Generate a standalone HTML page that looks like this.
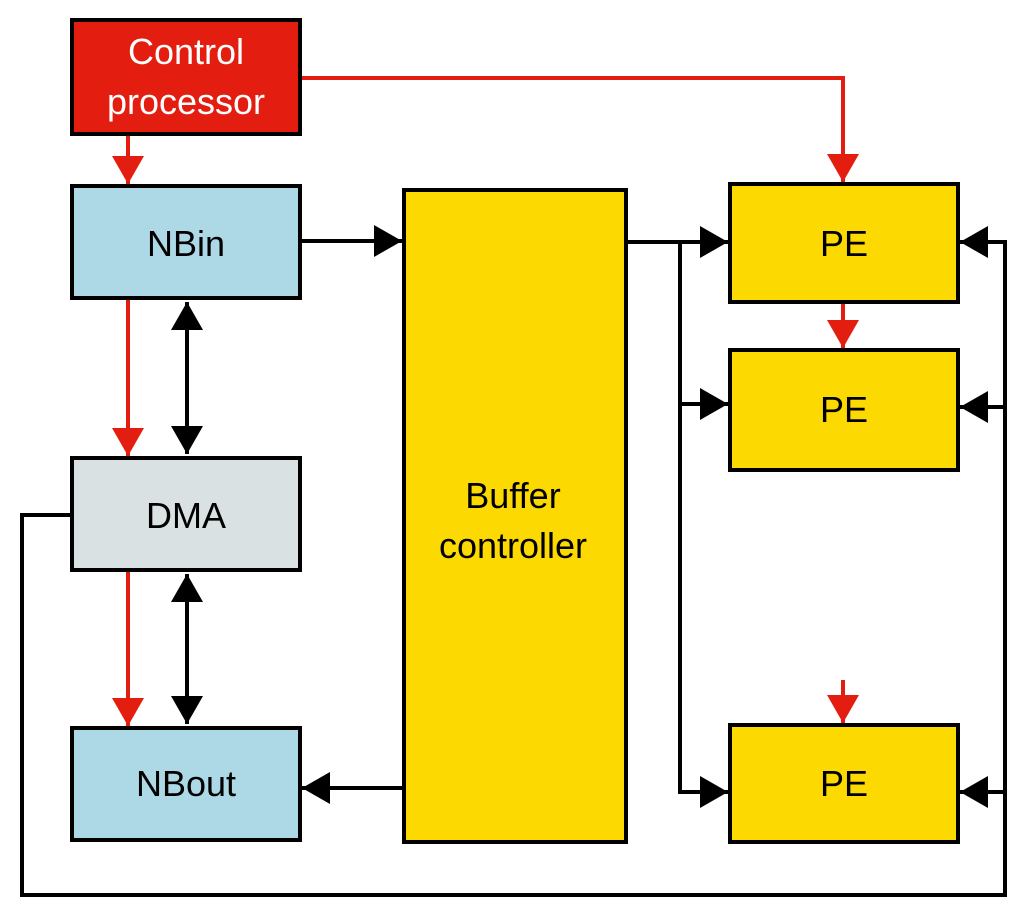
<html><body style="margin:0;background:#fff">
<svg width="1024" height="912" viewBox="0 0 1024 912" xmlns="http://www.w3.org/2000/svg" font-family="Liberation Sans, sans-serif">
<defs>
<marker id="b" markerWidth="8" markerHeight="8" refX="7" refY="4" orient="auto-start-reverse" markerUnits="strokeWidth"><path d="M0,0 L7,4 L0,8z" fill="#000"/></marker>
<marker id="r" markerWidth="8" markerHeight="8" refX="7" refY="4" orient="auto" markerUnits="strokeWidth"><path d="M0,0 L7,4 L0,8z" fill="#e31e10"/></marker>
</defs>
<g stroke-width="4" fill="none">
<path d="M300,78 H843 V182" stroke="#e31e10" marker-end="url(#r)"/>
<path d="M128,136 V184" stroke="#e31e10" marker-end="url(#r)"/>
<path d="M128,300 V456" stroke="#e31e10" marker-end="url(#r)"/>
<path d="M128,572 V726" stroke="#e31e10" marker-end="url(#r)"/>
<path d="M843,302 V348" stroke="#e31e10" marker-end="url(#r)"/>
<path d="M843,680 V723" stroke="#e31e10" marker-end="url(#r)"/>
<path d="M187,302 V454" stroke="#000" marker-start="url(#b)" marker-end="url(#b)"/>
<path d="M187,574 V724" stroke="#000" marker-start="url(#b)" marker-end="url(#b)"/>
<path d="M300,241 H402" stroke="#000" marker-end="url(#b)"/>
<path d="M622,242 H728" stroke="#000" marker-end="url(#b)"/>
<path d="M680,242 V792 H728" stroke="#000" marker-end="url(#b)"/>
<path d="M680,404 H728" stroke="#000" marker-end="url(#b)"/>
<path d="M404,788 H302" stroke="#000" marker-end="url(#b)"/>
<path d="M72,515 H22 V895 H1005 V242 H960" stroke="#000" marker-end="url(#b)"/>
<path d="M1005,407 H960" stroke="#000" marker-end="url(#b)"/>
<path d="M1005,792 H960" stroke="#000" marker-end="url(#b)"/>
</g>
<g stroke="#000" stroke-width="4">
<rect x="72" y="20" width="228" height="114" fill="#e31e10"/>
<rect x="72" y="186" width="228" height="112" fill="#acd9e5"/>
<rect x="72" y="458" width="228" height="112" fill="#d9e1e3"/>
<rect x="72" y="728" width="228" height="112" fill="#acd9e5"/>
<rect x="404" y="190" width="222" height="652" fill="#fcd900"/>
<rect x="730" y="184" width="228" height="118" fill="#fcd900"/>
<rect x="730" y="350" width="228" height="120" fill="#fcd900"/>
<rect x="730" y="725" width="228" height="117" fill="#fcd900"/>
</g>
<g font-size="36" text-anchor="middle" fill="#000">
<text x="186" y="64" fill="#fff">Control</text>
<text x="186" y="114" fill="#fff">processor</text>
<text x="186" y="256">NBin</text>
<text x="186" y="528">DMA</text>
<text x="186" y="796">NBout</text>
<text x="513" y="508">Buffer</text>
<text x="513" y="558">controller</text>
<text x="844" y="256">PE</text>
<text x="844" y="422">PE</text>
<text x="844" y="796">PE</text>
</g>
</svg>
</body></html>
